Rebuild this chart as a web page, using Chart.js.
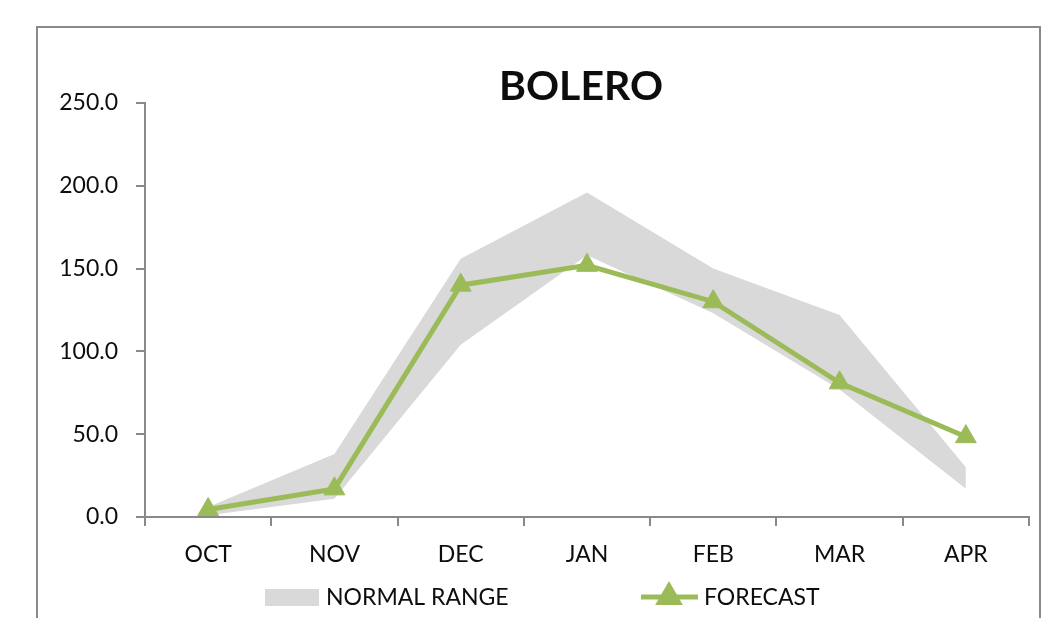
<!DOCTYPE html>
<html>
<head>
<meta charset="utf-8">
<title>BOLERO</title>
<script src="https://cdn.jsdelivr.net/npm/chart.js@4.4.1/dist/chart.umd.min.js"></script>
<style>
  html, body { margin: 0; padding: 0; background: #fff; }
  #wrap { width: 1064px; height: 618px; }
</style>
</head>
<body>
<div id="wrap"><canvas id="chart" width="1064" height="618"></canvas></div>
<script>
// Data
const months = ["OCT", "NOV", "DEC", "JAN", "FEB", "MAR", "APR"];
const forecast = [4.5, 17, 140, 152, 130, 81, 48.5];
const normalLow = [1, 11, 104, 158, 123, 77, 17];
const normalHigh = [6, 38, 156, 196, 150, 122, 30];
const yTicks = [0, 50, 100, 150, 200, 250];

const chartTitle = "BOLERO";
const bandLabel = "NORMAL RANGE";
const lineLabel = "FORECAST";

const GREEN = "#9bbb59";
const BAND = "#d9d9d9";
const AXIS = "#898989";
const TEXT = "#0d0d0d";
const FONT = "Lato, 'Open Sans', sans-serif";

// Frame, title and legend, drawn like the Excel chart box
const decorations = {
  id: "decorations",
  beforeDraw(chart) {
    const ctx = chart.ctx;
    ctx.save();
    ctx.strokeStyle = AXIS;
    ctx.lineWidth = 2;
    ctx.strokeRect(37, 27, 1003, 620);
    ctx.restore();
  },
  afterDraw(chart) {
    const ctx = chart.ctx;
    ctx.save();

    // title
    ctx.fillStyle = TEXT;
    ctx.font = "bold 41px " + FONT;
    ctx.textAlign = "center";
    ctx.textBaseline = "alphabetic";
    ctx.fillText(chartTitle, 581, 100);

    // legend: normal range swatch
    ctx.font = "23px " + FONT;
    ctx.textAlign = "left";
    ctx.textBaseline = "middle";
    ctx.fillStyle = BAND;
    ctx.fillRect(265, 589, 54, 17);
    ctx.fillStyle = TEXT;
    ctx.fillText(bandLabel, 326, 598);

    // legend: forecast line + marker
    ctx.strokeStyle = GREEN;
    ctx.lineWidth = 5;
    ctx.beginPath();
    ctx.moveTo(641, 597);
    ctx.lineTo(698, 597);
    ctx.stroke();
    ctx.fillStyle = GREEN;
    Chart.helpers.drawPoint(ctx, { pointStyle: "triangle", radius: 11, rotation: 0, borderWidth: 1 }, 669, 597);
    ctx.fillStyle = TEXT;
    ctx.fillText(lineLabel, 704, 598);

    ctx.restore();
  }
};

const ctx = document.getElementById("chart").getContext("2d");

new Chart(ctx, {
  type: "line",
  data: {
    labels: months,
    datasets: [
      {
        label: lineLabel,
        data: forecast,
        borderColor: GREEN,
        backgroundColor: GREEN,
        borderWidth: 5,
        pointStyle: "triangle",
        pointRadius: 12,
        pointBorderWidth: 1,
        pointBackgroundColor: GREEN,
        pointBorderColor: GREEN,
        tension: 0,
        fill: false,
      },
      {
        label: "low",
        data: normalLow,
        borderColor: "rgba(0,0,0,0)",
        borderWidth: 0,
        pointRadius: 0,
        fill: false,
      },
      {
        label: bandLabel,
        data: normalHigh,
        borderColor: "rgba(0,0,0,0)",
        backgroundColor: BAND,
        borderWidth: 0,
        pointRadius: 0,
        fill: "-1",
      },
    ],
  },
  options: {
    responsive: false,
    animation: false,
    events: [],
    layout: { padding: { top: 103, left: 20, right: 35, bottom: 0 } },
    plugins: {
      legend: { display: false },
      title: { display: false },
      tooltip: { enabled: false },
    },
    scales: {
      x: {
        offset: true,
        afterFit(scale) { scale.height = 101; },
        grid: {
          offset: true,
          drawOnChartArea: false,
          drawTicks: true,
          tickLength: 9,
          color: AXIS,
          lineWidth: 2,
        },
        border: { display: true, color: AXIS, width: 2 },
        ticks: {
          color: TEXT,
          font: { family: FONT, size: 23 },
          padding: 15,
          maxRotation: 0,
        },
      },
      y: {
        min: 0,
        max: 250,
        afterFit(scale) { scale.width = 125; },
        afterBuildTicks(scale) {
          scale.ticks = yTicks.map((v) => ({ value: v }));
        },
        grid: {
          drawOnChartArea: false,
          drawTicks: true,
          tickLength: 9,
          color: AXIS,
          lineWidth: 2,
        },
        border: { display: true, color: AXIS, width: 2 },
        ticks: {
          color: TEXT,
          font: { family: FONT, size: 23 },
          padding: 18,
          callback: (v) => Number(v).toFixed(1),
        },
      },
    },
  },
  plugins: [decorations],
});
</script>
</body>
</html>
